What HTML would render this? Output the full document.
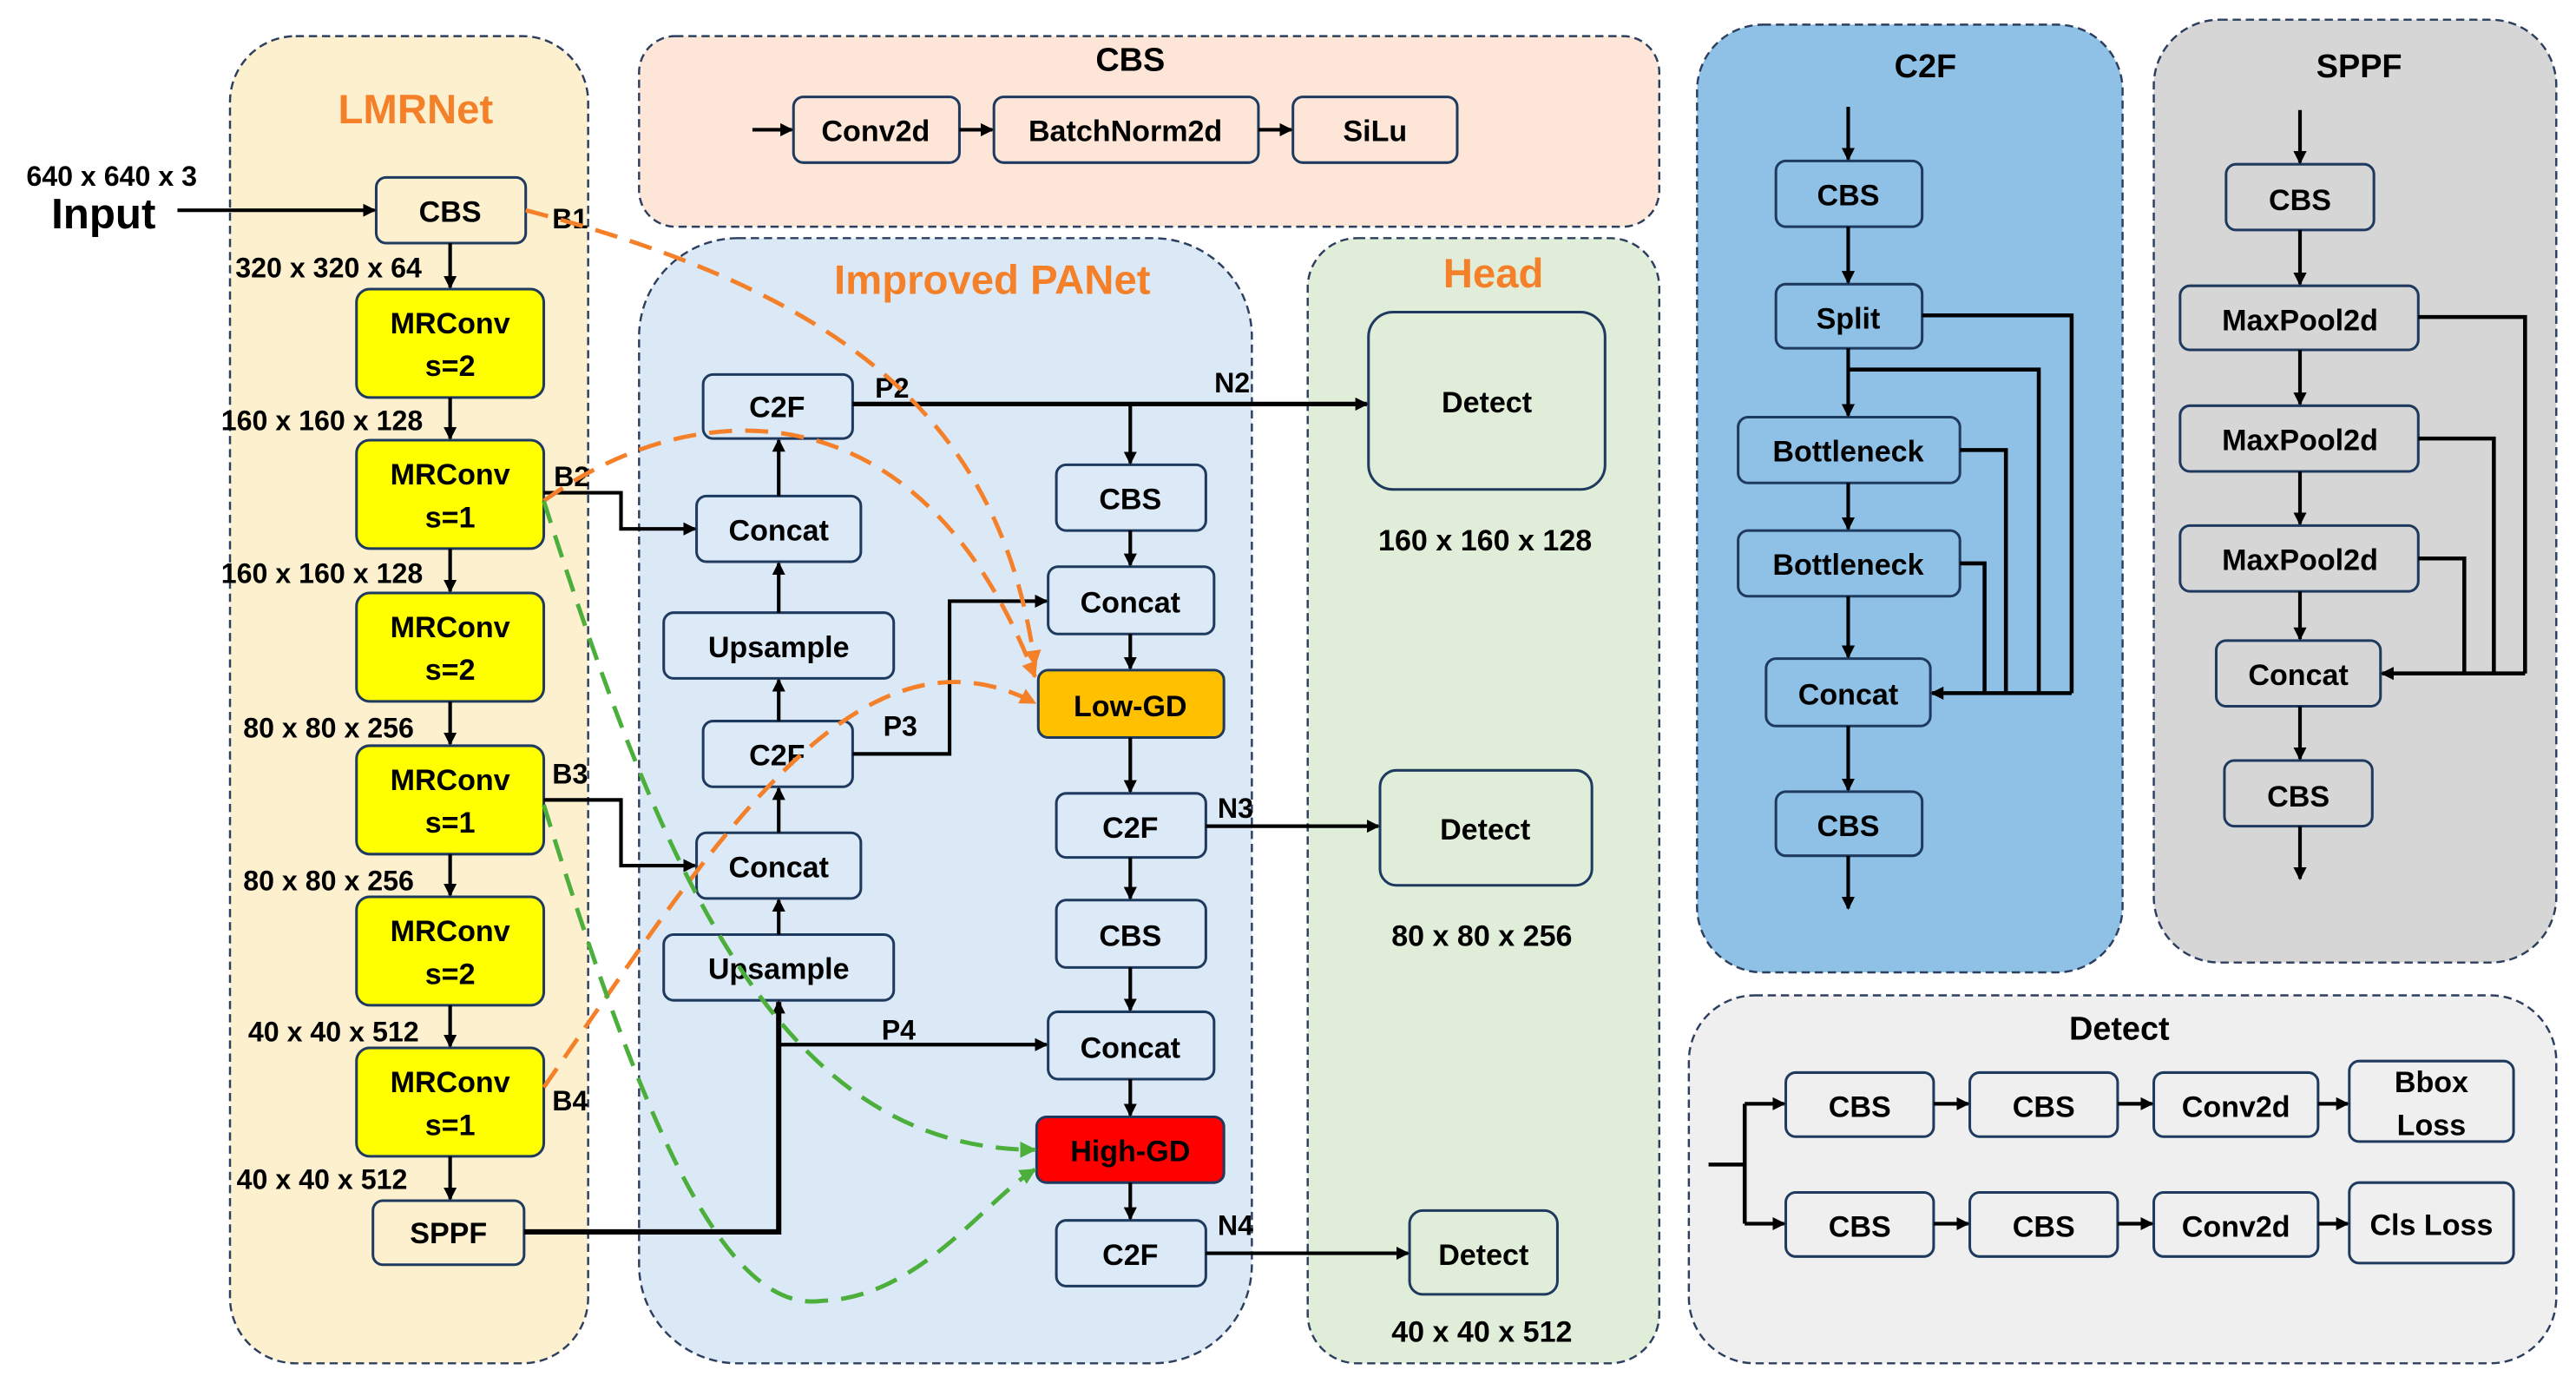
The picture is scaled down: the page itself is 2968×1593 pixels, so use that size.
<!DOCTYPE html>
<html><head><meta charset="utf-8"><style>
html,body{margin:0;padding:0;background:#fff;}
svg{display:block;}
text{font-family:"Liberation Sans",sans-serif;font-weight:bold;}
</style></head><body>
<svg width="2968" height="1593" viewBox="0 0 1568 842" preserveAspectRatio="none" xmlns="http://www.w3.org/2000/svg">
<defs>
<marker id="a" markerWidth="8" markerHeight="8" refX="7" refY="4" orient="auto" markerUnits="userSpaceOnUse"><path d="M0,0 L8,4 L0,8 z" fill="#000"/></marker>
<marker id="ao" markerWidth="10" markerHeight="10" refX="9" refY="5" orient="auto" markerUnits="userSpaceOnUse"><path d="M0,0 L10,5 L0,10 z" fill="#f5802a"/></marker>
<marker id="ag" markerWidth="10" markerHeight="10" refX="9" refY="5" orient="auto" markerUnits="userSpaceOnUse"><path d="M0,0 L10,5 L0,10 z" fill="#4caf3c"/></marker>
</defs>
<g stroke="#2d3f5e" stroke-width="1.3" stroke-dasharray="5,3">
<rect x="140" y="22" width="218" height="808" rx="40" fill="#fdf0cf"/>
<rect x="389" y="22" width="621" height="116" rx="22" fill="#fde5d8"/>
<rect x="389" y="145" width="373" height="685" rx="60" fill="#dbe9f6"/>
<rect x="796" y="145" width="214" height="685" rx="30" fill="#e0eed9"/>
<rect x="1033" y="15" width="259" height="577" rx="40" fill="#8fc1e7"/>
<rect x="1311" y="12" width="245" height="574" rx="40" fill="#d6d6d6"/>
<rect x="1028" y="606" width="528" height="224" rx="40" fill="#efefef"/>
</g>
<g font-size="25" fill="#f5802a" text-anchor="middle">
<text x="253" y="75">LMRNet</text><text x="604" y="179">Improved PANet</text><text x="909" y="175">Head</text>
</g>
<g font-size="20" fill="#000" text-anchor="middle">
<text x="688" y="43">CBS</text><text x="1172" y="47">C2F</text><text x="1436" y="47">SPPF</text><text x="1290" y="633">Detect</text>
</g>
<g stroke="#1f3a5f" stroke-width="1.6" fill="#dce9f7">
<rect x="229" y="108" width="91" height="40" rx="6" fill="#fdf0cf"/>
<g fill="#ffff00"><rect x="217" y="176" width="114" height="66" rx="8"/><rect x="217" y="268" width="114" height="66" rx="8"/><rect x="217" y="361" width="114" height="66" rx="8"/><rect x="217" y="454" width="114" height="66" rx="8"/><rect x="217" y="546" width="114" height="66" rx="8"/><rect x="217" y="638" width="114" height="66" rx="8"/></g>
<rect x="227" y="731" width="92" height="39" rx="6" fill="#fdf0cf"/>
<g fill="#fde5d8"><rect x="483" y="59" width="101" height="40" rx="6"/><rect x="605" y="59" width="161" height="40" rx="6"/><rect x="787" y="59" width="100" height="40" rx="6"/></g>
<rect x="428" y="228" width="91" height="39" rx="6"/><rect x="424" y="302" width="100" height="40" rx="6"/><rect x="404" y="373" width="140" height="40" rx="6"/><rect x="428" y="439" width="91" height="40" rx="6"/><rect x="424" y="507" width="100" height="40" rx="6"/><rect x="404" y="569" width="140" height="40" rx="6"/>
<rect x="643" y="283" width="91" height="40" rx="6"/><rect x="638" y="345" width="101" height="41" rx="6"/><rect x="632" y="408" width="113" height="41" rx="6" fill="#ffc000"/><rect x="643" y="483" width="91" height="39" rx="6"/><rect x="643" y="548" width="91" height="41" rx="6"/><rect x="638" y="616" width="101" height="41" rx="6"/><rect x="631" y="680" width="114" height="40" rx="6" fill="#ff0000"/><rect x="643" y="743" width="91" height="40" rx="6"/>
<g fill="#e0eed9"><rect x="833" y="190" width="144" height="108" rx="15"/><rect x="840" y="469" width="129" height="70" rx="10"/><rect x="858" y="737" width="90" height="51" rx="8"/></g>
<g fill="#8fc1e7"><rect x="1081" y="98" width="89" height="40" rx="6"/><rect x="1081" y="173" width="89" height="39" rx="6"/><rect x="1058" y="254" width="135" height="40" rx="6"/><rect x="1058" y="323" width="135" height="40" rx="6"/><rect x="1075" y="401" width="100" height="41" rx="6"/><rect x="1081" y="482" width="89" height="39" rx="6"/></g>
<g fill="#d6d6d6"><rect x="1355" y="100" width="90" height="40" rx="6"/><rect x="1327" y="174" width="145" height="39" rx="6"/><rect x="1327" y="247" width="145" height="40" rx="6"/><rect x="1327" y="320" width="145" height="40" rx="6"/><rect x="1349" y="390" width="100" height="40" rx="6"/><rect x="1354" y="463" width="90" height="40" rx="6"/></g>
<g fill="#efefef"><rect x="1087" y="653" width="90" height="39" rx="6"/><rect x="1199" y="653" width="90" height="39" rx="6"/><rect x="1311" y="653" width="100" height="39" rx="6"/><rect x="1430" y="646" width="100" height="49" rx="6"/>
<rect x="1087" y="726" width="90" height="39" rx="6"/><rect x="1199" y="726" width="90" height="39" rx="6"/><rect x="1311" y="726" width="100" height="39" rx="6"/><rect x="1430" y="720" width="100" height="49" rx="6"/></g>
</g>
<g font-size="18" fill="#000" text-anchor="middle">
<text x="274" y="135">CBS</text>
<text x="274" y="203">MRConv</text><text x="274" y="229">s=2</text>
<text x="274" y="295">MRConv</text><text x="274" y="321">s=1</text>
<text x="274" y="388">MRConv</text><text x="274" y="414">s=2</text>
<text x="274" y="481">MRConv</text><text x="274" y="507">s=1</text>
<text x="274" y="573">MRConv</text><text x="274" y="599">s=2</text>
<text x="274" y="665">MRConv</text><text x="274" y="691">s=1</text>
<text x="273" y="757">SPPF</text>
<text x="533" y="86">Conv2d</text><text x="685" y="86">BatchNorm2d</text><text x="837" y="86">SiLu</text>
<text x="473" y="254">C2F</text><text x="474" y="329">Concat</text><text x="474" y="400">Upsample</text><text x="473" y="466">C2F</text><text x="474" y="534">Concat</text><text x="474" y="596">Upsample</text>
<text x="688" y="310">CBS</text><text x="688" y="373">Concat</text><text x="688" y="436">Low-GD</text><text x="688" y="510">C2F</text><text x="688" y="576">CBS</text><text x="688" y="644">Concat</text><text x="688" y="707" fill="#000">High-GD</text><text x="688" y="770">C2F</text>
<text x="905" y="251">Detect</text><text x="904" y="511">Detect</text><text x="903" y="770">Detect</text>
<text x="904" y="335">160 x 160 x 128</text><text x="902" y="576">80 x 80 x 256</text><text x="902" y="817">40 x 40 x 512</text>
<text x="1125" y="125">CBS</text><text x="1125" y="200">Split</text><text x="1125" y="281">Bottleneck</text><text x="1125" y="350">Bottleneck</text><text x="1125" y="429">Concat</text><text x="1125" y="509">CBS</text>
<text x="1400" y="128">CBS</text><text x="1400" y="201">MaxPool2d</text><text x="1400" y="274">MaxPool2d</text><text x="1400" y="347">MaxPool2d</text><text x="1399" y="417">Concat</text><text x="1399" y="491">CBS</text>
<text x="1132" y="680">CBS</text><text x="1244" y="680">CBS</text><text x="1361" y="680">Conv2d</text><text x="1480" y="665">Bbox</text><text x="1480" y="691">Loss</text>
<text x="1132" y="753">CBS</text><text x="1244" y="753">CBS</text><text x="1361" y="753">Conv2d</text><text x="1480" y="752">Cls Loss</text>
</g>
<g font-size="17" fill="#000" text-anchor="middle">
<text x="68" y="113">640 x 640 x 3</text>
<text x="200" y="169">320 x 320 x 64</text><text x="196" y="262">160 x 160 x 128</text><text x="196" y="355">160 x 160 x 128</text><text x="200" y="449">80 x 80 x 256</text><text x="200" y="542">80 x 80 x 256</text><text x="203" y="634">40 x 40 x 512</text><text x="196" y="724">40 x 40 x 512</text>
<text x="347" y="139">B1</text><text x="348" y="296">B2</text><text x="347" y="477">B3</text><text x="347" y="676">B4</text>
<text x="543" y="242">P2</text><text x="750" y="239">N2</text><text x="548" y="448">P3</text><text x="752" y="498">N3</text><text x="547" y="633">P4</text><text x="752" y="752">N4</text>
</g>
<text x="63" y="139" font-size="26" text-anchor="middle">Input</text>
<g stroke="#000" stroke-width="2.2" fill="none" marker-end="url(#a)">
<path d="M108,128 H228"/>
<path d="M274,148 V175"/><path d="M274,242 V267"/><path d="M274,334 V360"/><path d="M274,427 V453"/><path d="M274,520 V545"/><path d="M274,612 V637"/><path d="M274,704 V730"/>
<path d="M458,79 H482"/><path d="M584,79 H604"/><path d="M766,79 H786"/>
<path d="M331,300 H378 V322 H423"/><path d="M331,487 H378 V527 H423"/>
<path d="M474,302 V268"/><path d="M474,373 V343"/><path d="M474,439 V414"/><path d="M474,507 V480"/><path d="M474,569 V548"/>
<path d="M519,246 H832" stroke-width="2.8"/><path d="M688,246 V282"/>
<path d="M519,459 H578 V366 H637"/>
<path d="M688,323 V344"/><path d="M688,386 V407"/><path d="M688,449 V482"/><path d="M688,522 V547"/><path d="M688,589 V615"/><path d="M688,657 V679"/><path d="M688,720 V742"/>
<path d="M734,503 H839"/><path d="M734,763 H857"/>
<path d="M474,636 H637"/>
<path d="M319,750 H474 V610" stroke-width="3.2"/>
<path d="M1125,65 V97"/><path d="M1125,138 V172"/><path d="M1125,212 V253"/><path d="M1125,294 V322"/><path d="M1125,363 V400"/><path d="M1125,442 V481"/><path d="M1125,521 V553"/>
<path d="M1400,67 V99"/><path d="M1400,140 V173"/><path d="M1400,213 V246"/><path d="M1400,287 V319"/><path d="M1400,360 V389"/><path d="M1400,430 V462"/><path d="M1400,503 V535"/>
<path d="M1177,672 H1198"/><path d="M1289,672 H1310"/><path d="M1411,672 H1429"/>
<path d="M1177,745 H1198"/><path d="M1289,745 H1310"/><path d="M1411,745 H1429"/>
<path d="M1062,672 H1086"/><path d="M1062,745 H1086"/>
</g>
<g stroke="#000" stroke-width="2.4" fill="none">
<path d="M1170,192 H1261 V422"/><path d="M1125,225 H1241 V422"/><path d="M1193,274 H1221 V422"/><path d="M1193,343 H1208 V422"/>
<path d="M1261,422 H1176" marker-end="url(#a)"/>
<path d="M1472,193 H1537 V410"/><path d="M1472,267 H1518 V410"/><path d="M1472,340 H1500 V410"/>
<path d="M1537,410 H1450" marker-end="url(#a)"/>
<path d="M1040,709 H1062"/><path d="M1062,672 V745"/>
</g>
<g stroke="#f5802a" stroke-width="2.6" fill="none" stroke-dasharray="14,8">
<path d="M320,128 C520,180 610,260 630,405" marker-end="url(#ao)"/>
<path d="M331,305 C420,240 560,230 630,412" marker-end="url(#ao)"/>
<path d="M331,662 C430,520 520,370 630,428" marker-end="url(#ao)"/>
</g>
<g stroke="#4caf3c" stroke-width="2.6" fill="none" stroke-dasharray="14,8">
<path d="M331,305 C400,520 470,700 630,700" marker-end="url(#ag)"/>
<path d="M331,490 C390,680 440,800 500,792 C560,790 600,730 630,712" marker-end="url(#ag)"/>
</g>
</svg>
</body></html>
